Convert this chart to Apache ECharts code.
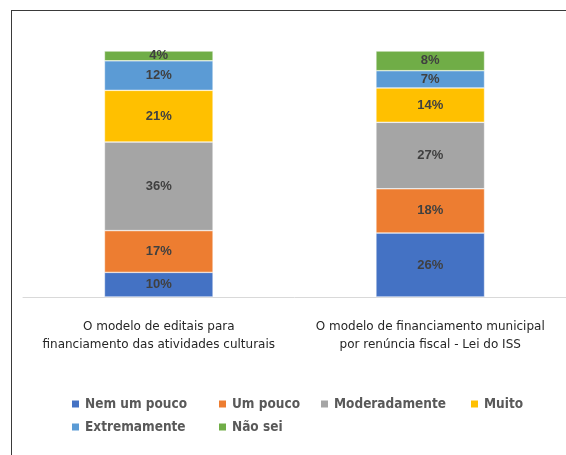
<!DOCTYPE html>
<html>
<head>
<meta charset="utf-8">
<script src="https://cdn.jsdelivr.net/npm/echarts@6/dist/echarts.min.js"></script>
<style>
  html, body { margin: 0; padding: 0; background: #fff; overflow: hidden; }
  /* open frame: top and left edges only */
  #frame { position: absolute; left: 11px; top: 10px; width: 600px; height: 500px;
           border-top: 1.5px solid #3a3a3a; border-left: 1.5px solid #3a3a3a; pointer-events: none; }
  #chart { position: absolute; left: 0; top: 0; width: 566px; height: 455px; }
</style>
</head>
<body>
<div id="chart"></div>
<div id="frame"></div>
<script>
// Categories (two survey questions) and answer shares, in percent
const categories = [
  'O modelo de editais para\nfinanciamento das atividades culturais',
  'O modelo de financiamento municipal\npor renúncia fiscal - Lei do ISS'
];
const seriesNames = ['Nem um pouco', 'Um pouco', 'Moderadamente', 'Muito', 'Extremamente', 'Não sei'];
const nemUmPouco    = [10, 26];
const umPouco       = [17, 18];
const moderadamente = [36, 27];
const muito         = [21, 14];
const extremamente  = [12, 7];
const naoSei        = [4, 8];

const seriesValues = [nemUmPouco, umPouco, moderadamente, muito, extremamente, naoSei];
const colors = ['#4472C4', '#ED7D31', '#A5A5A5', '#FFC000', '#5B9BD5', '#70AD47'];

// Legend laid out as two rows with aligned columns
const legendSlots = [
  { left: 70,  top: 397 }, { left: 217, top: 397 }, { left: 319, top: 397 }, { left: 469, top: 397 },
  { left: 70,  top: 420 }, { left: 217, top: 420 }
];

const chart = echarts.init(document.getElementById('chart'));

chart.setOption({
  backgroundColor: '#fff',
  animation: false,
  grid: { left: 23, right: 0, top: 51, bottom: 158, containLabel: false },
  xAxis: {
    type: 'category',
    data: categories,
    axisLine: { show: true, lineStyle: { color: '#D9D9D9', width: 1 } },
    axisTick: { show: false },
    axisLabel: {
      interval: 0,
      margin: 21,
      color: '#262626',
      fontFamily: 'DejaVu Sans',
      fontSize: 12,
      lineHeight: 18,
      align: 'center'
    }
  },
  yAxis: {
    type: 'value',
    min: 0,
    max: 100,
    show: false,
    splitLine: { show: false }
  },
  legend: seriesNames.map((name, i) => ({
    data: [name],
    left: legendSlots[i].left,
    top: legendSlots[i].top,
    icon: 'rect',
    itemWidth: 9,
    itemHeight: 9,
    itemGap: 0,
    padding: 0,
    selectedMode: false,
    textStyle: { color: '#595959', fontFamily: 'DejaVu Sans Condensed', fontWeight: 'bold', fontSize: 13.5 }
  })),
  series: seriesNames.map((name, i) => ({
    name: name,
    type: 'bar',
    stack: 'total',
    barWidth: '40%',
    data: seriesValues[i],
    itemStyle: { color: colors[i], borderColor: '#fff', borderWidth: 0.5 },
    label: {
      show: true,
      position: 'inside',
      formatter: '{c}%',
      color: '#404040',
      fontFamily: 'Liberation Sans',
      fontWeight: 'bold',
      fontSize: 13
    }
  }))
});
</script>
</body>
</html>
